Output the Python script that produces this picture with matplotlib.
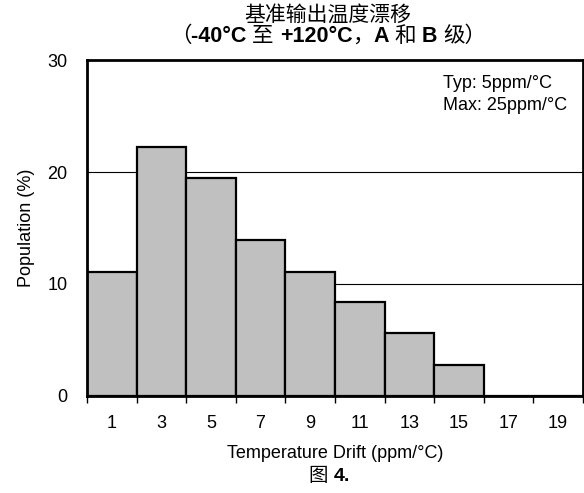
import numpy as np
import matplotlib.pyplot as plt

plt.rcParams['font.family'] = ['Liberation Sans', 'Noto Sans CJK SC']

# histogram data (ppm/°C bins of width 2)
bin_edges = [0, 2, 4, 6, 8, 10, 12, 14, 16, 18, 20]
population = [11.1, 22.2, 19.5, 13.9, 11.1, 8.4, 5.6, 2.8, 0, 0]
tick_labels = ['1', '3', '5', '7', '9', '11', '13', '15', '17', '19']
y_ticks = [0, 10, 20, 30]

fig = plt.figure(figsize=(5.84, 4.93), dpi=100)
ax = fig.add_axes([0.149, 0.197, 0.849, 0.681])

left = np.array(bin_edges[:-1])
widths = np.diff(bin_edges)
centers = left + widths / 2

for g in [10, 20]:
    ax.axhline(g, color='black', lw=0.8, zorder=1)
ax.bar(left, population, width=widths, align='edge', color='#c0c0c0',
       edgecolor='black', linewidth=1.6, zorder=2)

ax.set_xlim(0, 20)
ax.set_ylim(0, 30)
ax.set_xticks(bin_edges)
ax.set_xticklabels([])
ax.set_xticks(centers, minor=True)
ax.set_xticklabels(tick_labels, minor=True, fontsize=13)
ax.tick_params(axis='x', which='major', length=5, width=1, direction='out')
ax.tick_params(axis='x', which='minor', length=0, pad=14)
ax.set_yticks(y_ticks)
ax.set_yticklabels([str(v) for v in y_ticks], fontsize=13)
ax.tick_params(axis='y', length=0, pad=14)
for s in ax.spines.values():
    s.set_linewidth(2)
    s.set_zorder(3)

ax.set_ylabel('Population (%)', fontsize=13, labelpad=9)
ax.set_xlabel('Temperature Drift (ppm/°C)', fontsize=13, labelpad=9)

ax.text(0.718, 0.93, 'Typ: 5ppm/°C', transform=ax.transAxes, fontsize=13, va='center')
ax.text(0.718, 0.865, 'Max: 25ppm/°C', transform=ax.transAxes, fontsize=13, va='center')

fig.text(0.561, 0.97, '基准输出温度漂移', ha='center', va='center', fontsize=15)

# second title line with mixed weights
parts = [('（', 'normal'), ('-40°C ', 'bold'), ('至 ', 'normal'), ('+120°C', 'bold'),
         ('，', 'normal'), ('A ', 'bold'), ('和 ', 'normal'), ('B ', 'bold'), ('级）', 'normal')]
fig.canvas.draw()
r = fig.canvas.get_renderer()
texts = []
total = 0
for s, w in parts:
    t = fig.text(0, 0.926, s, fontsize=15.5, fontweight=w, va='center')
    wpx = t.get_window_extent(r).width
    texts.append((t, wpx))
    total += wpx
x0 = 0.562 * fig.bbox.width - total / 2
for t, wpx in texts:
    t.set_x(x0 / fig.bbox.width)
    x0 += wpx

fig.text(0.572, 0.033, '图 ', ha='right', va='center', fontsize=14)
fig.text(0.572, 0.033, '4.', ha='left', va='center', fontsize=14, fontweight='bold')

fig.savefig('out.png', dpi=100)
